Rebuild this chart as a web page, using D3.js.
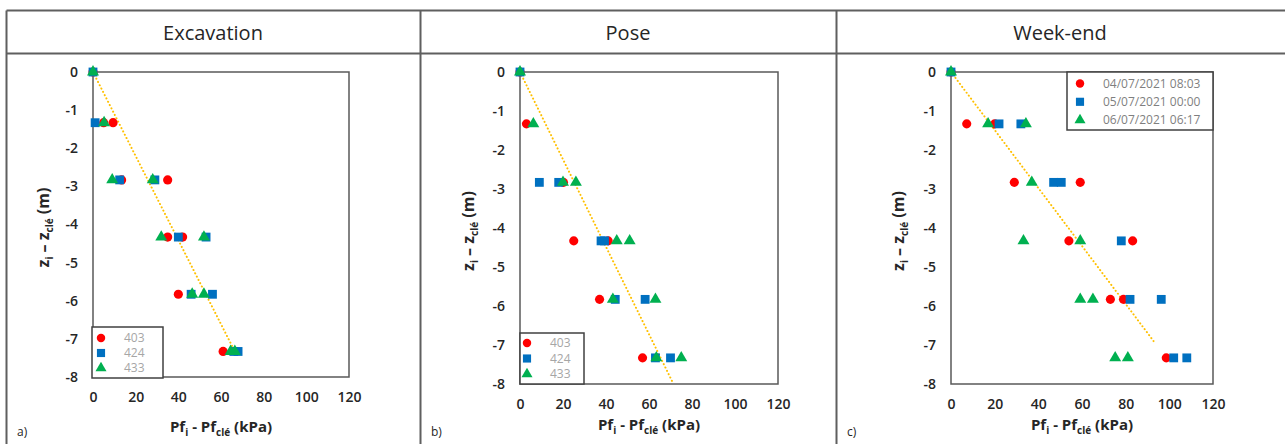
<!DOCTYPE html>
<html>
<head>
<meta charset="utf-8">
<script src="https://cdn.jsdelivr.net/npm/d3@7"></script>
<style>
  body { margin: 0; background: #fff; }
  svg { display: block; font-family: "Open Sans", sans-serif; }
</style>
</head>
<body>
<svg id="chart" width="1285" height="444"></svg>
<script>
// titles / labels
const panelTitles = ["Excavation", "Pose", "Week-end"];
const panelTags = ["a)", "b)", "c)"];
const xTicks = [0, 20, 40, 60, 80, 100, 120];
const yTicks = [0, -1, -2, -3, -4, -5, -6, -7, -8];
const legendLabels1 = ["403", "424", "433"];
const legendLabels3 = ["04/07/2021 08:03", "05/07/2021 00:00", "06/07/2021 06:17"];

// points as [Pf_i - Pf_clé (kPa), z_i - z_clé (m)]
const excav403 = [[0, 0], [5, -1.33], [9.4, -1.33], [13.4, -2.83], [35, -2.83], [35, -4.33], [42, -4.33], [40, -5.83], [61, -7.33]];
const excav424 = [[0, 0], [1, -1.33], [12.5, -2.83], [29, -2.83], [40, -4.33], [53, -4.33], [46, -5.83], [56, -5.83], [66, -7.33], [68, -7.33]];
const excav433 = [[0, 0], [5.2, -1.33], [9, -2.83], [28, -2.83], [32, -4.33], [52, -4.33], [46.5, -5.83], [52, -5.83], [64.5, -7.33], [66.5, -7.33]];

const pose403 = [[0, 0], [3, -1.33], [20.2, -2.83], [25, -4.33], [41, -4.33], [37, -5.83], [57, -7.33]];
const pose424 = [[0, 0], [9, -2.83], [18, -2.83], [37.7, -4.33], [39.3, -4.33], [44.3, -5.83], [58.2, -5.83], [63, -7.33], [70, -7.33]];
const pose433 = [[0, 0], [6.2, -1.33], [20, -2.83], [26, -2.83], [45, -4.33], [51, -4.33], [43.2, -5.83], [63, -5.83], [63.4, -7.33], [75, -7.33]];

const week403 = [[0, 0], [7.2, -1.33], [20, -1.33], [29, -2.83], [59.2, -2.83], [54, -4.33], [83.2, -4.33], [73, -5.83], [79, -5.83], [98.6, -7.33]];
const week424 = [[0, 0], [22, -1.33], [32, -1.33], [47, -2.83], [50.5, -2.83], [78, -4.33], [82, -5.83], [96.3, -5.83], [102, -7.33], [108, -7.33]];
const week433 = [[0, 0], [17, -1.33], [34.3, -1.33], [37, -2.83], [33.2, -4.33], [59.2, -4.33], [59.2, -5.83], [65, -5.83], [75.2, -7.33], [81, -7.33]];

// dotted trend lines (end points)
const trendExcav = [[0, 0], [66.5, -7.33]];
const trendPose = [[0, 0], [71.4, -8]];
const trendWeek = [[0, 0], [93.6, -6.96]];

const colors = ["#ff0000", "#0070c0", "#00b050"];
const symbols = [d3.symbolCircle, d3.symbolSquare, d3.symbolTriangle];
const symbolSizes = [66, 78, 62];

const svg = d3.select("#chart");

// table frame
const frame = svg.append("g").attr("stroke", "#5f5f5f").attr("stroke-width", 2);
frame.append("line").attr("x1", 6.5).attr("x2", 1285).attr("y1", 10.5).attr("y2", 10.5);
frame.append("line").attr("x1", 6.5).attr("x2", 1285).attr("y1", 53.5).attr("y2", 53.5);
[6.5, 420.5, 836.5].forEach(x => {
    frame.append("line").attr("x1", x).attr("x2", x).attr("y1", 10.5).attr("y2", 444);
});

const panels = [
    { series: [excav403, excav424, excav433], trend: trendExcav, legend: legendLabels1,
      left: 93, right: 349, top: 72, bottom: 377, colLeft: 6, titleX: 213,
      yTitleX: 43, xTitleY: 432,
      legendBox: { x: 92, y: 327, w: 71, h: 51, mx: 101, tx: 124, y0: 338, dy: 15, color: "#a6a6a6" } },
    { series: [pose403, pose424, pose433], trend: trendPose, legend: legendLabels1,
      left: 520, right: 778, top: 72, bottom: 384, colLeft: 420, titleX: 628,
      yTitleX: 468, xTitleY: 430,
      legendBox: { x: 520, y: 333, w: 64, h: 51, mx: 527, tx: 550, y0: 343, dy: 15.5, color: "#a6a6a6" } },
    { series: [week403, week424, week433], trend: trendWeek, legend: legendLabels3,
      left: 951, right: 1213, top: 72, bottom: 384, colLeft: 836, titleX: 1060,
      yTitleX: 898, xTitleY: 430,
      legendBox: { x: 1067, y: 72, w: 146, h: 58, mx: 1080, tx: 1103, y0: 83.5, dy: 18.3, color: "#7f7f7f" } }
];

panels.forEach((p, i) => {
    const g = svg.append("g");

    // header
    g.append("text")
        .attr("x", p.titleX)
        .attr("y", 33)
        .attr("dy", "0.35em")
        .attr("text-anchor", "middle")
        .attr("font-size", 20)
        .attr("fill", "#262626")
        .text(panelTitles[i]);

    const x = d3.scaleLinear().domain([0, 120]).range([p.left, p.right]);
    const y = d3.scaleLinear().domain([-8, 0]).range([p.bottom, p.top]);

    // plot area border
    g.append("rect")
        .attr("x", p.left).attr("y", p.top)
        .attr("width", p.right - p.left).attr("height", p.bottom - p.top)
        .attr("fill", "none").attr("stroke", "#595959").attr("stroke-width", 1.5);

    const xAxis = g.append("g")
        .attr("transform", `translate(0,${p.bottom})`)
        .call(d3.axisBottom(x).tickValues(xTicks).tickSize(0).tickPadding(15));
    const yAxis = g.append("g")
        .attr("transform", `translate(${p.left},0)`)
        .call(d3.axisLeft(y).tickValues(yTicks).tickSize(0).tickPadding(15).tickFormat(d3.format("d")));
    [xAxis, yAxis].forEach(a => {
        a.select(".domain").remove();
        a.selectAll("text")
            .attr("font-family", "Open Sans, sans-serif")
            .attr("font-size", 14)
            .attr("font-weight", 600)
            .attr("fill", "#262626");
    });
    yAxis.selectAll("text").text(d => d === 0 ? "0" : "-" + Math.abs(d));

    // axis titles
    const xt = g.append("text")
        .attr("x", (p.left + p.right) / 2)
        .attr("y", p.xTitleY)
        .attr("text-anchor", "middle")
        .attr("font-size", 15)
        .attr("font-weight", 700)
        .attr("fill", "#262626");
    xt.append("tspan").text("Pf");
    xt.append("tspan").attr("font-size", 10).attr("dy", 4).text("i");
    xt.append("tspan").attr("dy", -4).text(" - Pf");
    xt.append("tspan").attr("font-size", 10).attr("dy", 4).text("clé");
    xt.append("tspan").attr("dy", -4).text(" (kPa)");

    const yt = g.append("text")
        .attr("transform", `translate(${p.yTitleX},${(p.top + p.bottom) / 2 + 3}) rotate(-90)`)
        .attr("text-anchor", "middle")
        .attr("dy", "0.35em")
        .attr("font-size", 16)
        .attr("font-weight", 700)
        .attr("fill", "#262626");
    yt.append("tspan").text("z");
    yt.append("tspan").attr("font-size", 10).attr("dy", 4).text("i");
    yt.append("tspan").attr("dy", -4).text(" – z");
    yt.append("tspan").attr("font-size", 10).attr("dy", 4).text("clé");
    yt.append("tspan").attr("dy", -4).text(" (m)");

    // panel tag
    g.append("text")
        .attr("x", p.colLeft + 11)
        .attr("y", 436)
        .attr("font-size", 12)
        .attr("fill", "#262626")
        .text(panelTags[i]);

    // trend line
    g.append("path")
        .datum(p.trend)
        .attr("d", d3.line().x(d => x(d[0])).y(d => y(d[1])))
        .attr("fill", "none")
        .attr("stroke", "#ffc000")
        .attr("stroke-width", 2)
        .attr("stroke-linecap", "round")
        .attr("stroke-dasharray", "0.1 3.6");

    // markers
    p.series.forEach((s, k) => {
        g.append("g").selectAll("path")
            .data(s)
            .join("path")
            .attr("transform", d => `translate(${x(d[0])},${y(d[1])})`)
            .attr("d", d3.symbol().type(symbols[k]).size(symbolSizes[k]))
            .attr("fill", colors[k]);
    });

    // legend
    const lb = p.legendBox;
    const lg = g.append("g");
    lg.append("rect")
        .attr("x", lb.x).attr("y", lb.y).attr("width", lb.w).attr("height", lb.h)
        .attr("fill", "#fff").attr("stroke", "#404040").attr("stroke-width", 1.5);
    p.legend.forEach((label, k) => {
        const ly = lb.y0 + k * lb.dy;
        lg.append("path")
            .attr("transform", `translate(${lb.mx},${ly})`)
            .attr("d", d3.symbol().type(symbols[k]).size(symbolSizes[k] * 0.85))
            .attr("fill", colors[k]);
        lg.append("text")
            .attr("x", lb.tx).attr("y", ly)
            .attr("dy", "0.35em")
            .attr("font-size", 12)
            .attr("fill", lb.color)
            .text(label);
    });
});
</script>
</body>
</html>
